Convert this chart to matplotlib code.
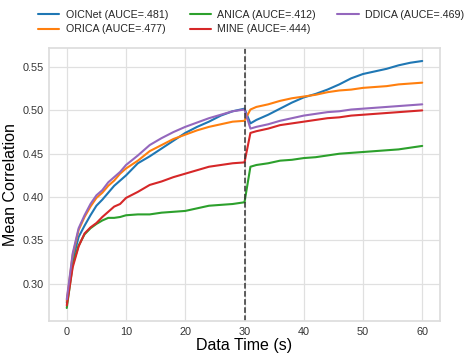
import matplotlib
matplotlib.use("Agg")
import matplotlib.pyplot as plt
import seaborn as sns

sns.set_theme(style="whitegrid")
plt.rcParams['font.family'] = ['Liberation Sans', 'DejaVu Sans']

time_s = [0, 1, 2, 3, 4, 5, 6, 7, 8, 9, 10, 12, 14, 16, 18, 20, 22, 24, 26, 28, 30,
          31, 32, 34, 36, 38, 40, 42, 44, 46, 48, 50, 52, 54, 56, 58, 60]

oicnet = [0.278, 0.327, 0.354, 0.367, 0.379, 0.390, 0.397, 0.405, 0.413, 0.419, 0.425,
          0.439, 0.447, 0.456, 0.465, 0.474, 0.481, 0.487, 0.494, 0.499, 0.502,
          0.485, 0.489, 0.495, 0.502, 0.509, 0.515, 0.519, 0.524, 0.530, 0.537,
          0.542, 0.545, 0.548, 0.552, 0.555, 0.557]
orica = [0.280, 0.333, 0.362, 0.377, 0.389, 0.399, 0.405, 0.413, 0.419, 0.427, 0.433,
         0.442, 0.453, 0.460, 0.467, 0.472, 0.477, 0.481, 0.484, 0.487, 0.488,
         0.501, 0.504, 0.507, 0.511, 0.514, 0.516, 0.518, 0.521, 0.523, 0.524,
         0.526, 0.527, 0.528, 0.530, 0.531, 0.532]
anica = [0.272, 0.322, 0.344, 0.357, 0.364, 0.369, 0.373, 0.376, 0.376, 0.377, 0.379,
         0.380, 0.380, 0.382, 0.383, 0.384, 0.387, 0.390, 0.391, 0.392, 0.394,
         0.435, 0.437, 0.439, 0.442, 0.443, 0.445, 0.446, 0.448, 0.450, 0.451,
         0.452, 0.453, 0.454, 0.455, 0.457, 0.459]
mine = [0.275, 0.319, 0.343, 0.358, 0.365, 0.370, 0.377, 0.383, 0.389, 0.392, 0.399,
        0.406, 0.414, 0.418, 0.423, 0.427, 0.431, 0.435, 0.437, 0.439, 0.440,
        0.474, 0.476, 0.479, 0.483, 0.485, 0.487, 0.489, 0.491, 0.492, 0.494,
        0.495, 0.496, 0.497, 0.498, 0.499, 0.500]
ddica = [0.282, 0.335, 0.364, 0.379, 0.392, 0.402, 0.408, 0.417, 0.423, 0.429, 0.437,
         0.448, 0.460, 0.468, 0.475, 0.481, 0.486, 0.491, 0.495, 0.499, 0.501,
         0.479, 0.481, 0.484, 0.488, 0.491, 0.494, 0.496, 0.498, 0.499, 0.501,
         0.502, 0.503, 0.504, 0.505, 0.506, 0.507]

series = [
    ("OICNet (AUCE=.481)", oicnet, "#1f77b4"),
    ("ORICA (AUCE=.477)", orica, "#ff7f0e"),
    ("ANICA (AUCE=.412)", anica, "#2ca02c"),
    ("MINE (AUCE=.444)", mine, "#d62728"),
    ("DDICA (AUCE=.469)", ddica, "#9467bd"),
]
switch_time = 30
y_ticks = [0.30, 0.35, 0.40, 0.45, 0.50, 0.55]
x_ticks = [0, 10, 20, 30, 40, 50, 60]

fig = plt.figure(figsize=(4.74, 3.58), dpi=100)
ax = fig.add_axes([49/474, 1 - 321/358, (440 - 49)/474, (321 - 48)/358])

for label, vals, color in series:
    ax.plot(time_s, vals, color=color, lw=1.5, label=label)

ax.axvline(switch_time, color="#333333", ls="--", lw=1.1)

ax.set_xlim(-3, 63)
ax.set_ylim(0.257, 0.572)
ax.set_xticks(x_ticks)
ax.set_yticks(y_ticks)
ax.set_yticklabels([f"{v:.2f}" for v in y_ticks])
ax.tick_params(labelsize=7.8, colors="#333333", length=0, pad=4)
ax.set_xlabel("Data Time (s)", fontsize=11.5, color="black", labelpad=1)
ax.set_ylabel("Mean Correlation", fontsize=11.5, color="black", labelpad=3)
for s in ax.spines.values():
    s.set_color("#dddddd")
ax.grid(color="#e0e0e0", lw=0.9)

handles, labels = ax.get_legend_handles_labels()
fig.legend(handles, labels, ncol=3, loc="upper center",
           bbox_to_anchor=(0.53, 1.0), frameon=False, fontsize=7.7,
           handlelength=2.0, columnspacing=2.0, labelspacing=0.45,
           handletextpad=0.6)

fig.savefig("out.png", dpi=100)
